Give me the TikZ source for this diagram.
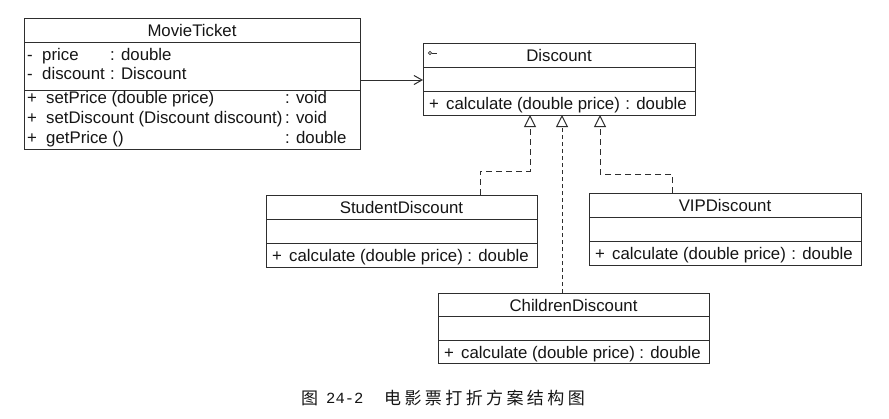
\documentclass[tikz,border=0pt]{standalone}
\usepackage{fontspec}
\setmainfont{Liberation Sans}
\newfontfamily\cjkfont{Noto Sans CJK SC}
\newfontfamily\capmono{Liberation Mono}
\usetikzlibrary{arrows.meta}
\definecolor{lc}{HTML}{2E2E2E}
\definecolor{tc}{HTML}{151515}
\newcommand\umlfont{\fontsize{16.8}{20}\selectfont}
\tikzset{
  clsbox/.style={draw=lc, line width=1pt, anchor=north west, inner sep=0pt, outer sep=0pt, fill=white},
  divline/.style={draw=lc, line width=1pt},
  ttl/.style={font=\umlfont, text=tc, inner sep=0pt},
  rowtxt/.style={font=\umlfont, text=tc, inner sep=0pt, anchor=base west},
  rowtxtE/.style={font=\umlfont, text=tc, inner sep=0pt, anchor=base east},
  assoc/.style={draw=lc, line width=1pt, -{Straight Barb[length=8pt,width=9pt,line width=1pt]}},
  realz/.style={draw=lc, line width=1pt, dash pattern=on 6pt off 4pt, -{Triangle[open,length=12pt,width=12pt,line width=1pt]}},
  realzfine/.style={draw=lc, line width=0.8pt, dash pattern=on 4pt off 3pt, -{Triangle[open,length=12pt,width=12pt,line width=1pt]}},
}
\begin{document}
\begin{tikzpicture}[x=1pt,y=-1pt]
\fill[white] (0,0) rectangle (889,418);
\useasboundingbox (0,0) rectangle (889,418);

% ---------- MovieTicket ----------
\node[clsbox, minimum width=336pt, minimum height=131pt] (mt) at (24,18) {};
\draw[divline] (24,42) -- (360,42);
\draw[divline] (24,90) -- (360,90);
\node[ttl] (mtT) at (192,30) {MovieTicket};
\node[rowtxt] (mta1) at (27,60) {-};
\node[rowtxt] (mta1n) at (42,60) {price};
\node[rowtxt] (mta1t) at (110,60) {: double};
\node[rowtxt] (mta2) at (27,79) {-};
\node[rowtxt] (mta2n) at (42,79) {discount};
\node[rowtxt] (mta2t) at (110,79) {: Discount};
\node[rowtxt] (mtm1) at (27,103) {+};
\node[rowtxt] (mtm1n) at (46,103) {setPrice (double price)};
\node[rowtxt] (mtm1t) at (285,103) {: void};
\node[rowtxt] (mtm2) at (27,123) {+};
\node[rowtxt] (mtm2n) at (46,123) {setDiscount (Discount discount)};
\node[rowtxt] (mtm2t) at (285,123) {: void};
\node[rowtxt] (mtm3) at (27,143) {+};
\node[rowtxt] (mtm3n) at (46,143) {getPrice ()};
\node[rowtxt] (mtm3t) at (285,143) {: double};

% ---------- Discount ----------
\node[clsbox, minimum width=272pt, minimum height=72pt] (disc) at (423,43) {};
\draw[divline] (423,67) -- (695,67);
\draw[divline] (423,91) -- (695,91);
\node[ttl] (discT) at (559,55) {Discount};
\draw[draw=lc, line width=0.6pt] (430,53) circle (1.6pt);
\draw[draw=lc, line width=0.6pt] (431.6,53) -- (437,53);
\node[rowtxt] (discp) at (429,109) {+};
\node[rowtxt] (discm) at (446,109) {calculate (double price)};
\node[rowtxtE] (disct) at (687,109) {: double};

% ---------- StudentDiscount ----------
\node[clsbox, minimum width=271pt, minimum height=72pt] (sd) at (266,195) {};
\draw[divline] (266,219) -- (537,219);
\draw[divline] (266,243) -- (537,243);
\node[ttl] (sdT) at (401.5,207) {StudentDiscount};
\node[rowtxt] (sdp) at (272,261) {+};
\node[rowtxt] (sdm) at (289,261) {calculate (double price)};
\node[rowtxtE] (sdt) at (529,261) {: double};

% ---------- VIPDiscount ----------
\node[clsbox, minimum width=272pt, minimum height=72pt] (vd) at (589,193) {};
\draw[divline] (589,217) -- (861,217);
\draw[divline] (589,241) -- (861,241);
\node[ttl] (vdT) at (725,205) {VIPDiscount};
\node[rowtxt] (vdp) at (595,259) {+};
\node[rowtxt] (vdm) at (612,259) {calculate (double price)};
\node[rowtxtE] (vdt) at (853,259) {: double};

% ---------- ChildrenDiscount ----------
\node[clsbox, minimum width=271pt, minimum height=70pt] (cd) at (438,293) {};
\draw[divline] (438,316) -- (709,316);
\draw[divline] (438,340) -- (709,340);
\node[ttl] (cdT) at (573.5,305) {ChildrenDiscount};
\node[rowtxt] (cdp) at (444,358) {+};
\node[rowtxt] (cdm) at (461,358) {calculate (double price)};
\node[rowtxtE] (cdt) at (701,358) {: double};

% ---------- connectors ----------
\draw[assoc] (mt.east |- 0,80) -- (disc.west |- 0,80);
\draw[realz] (sd.north -| 480,0) |- (530,171) -- (disc.south -| 530,0);
\draw[realzfine] (cd.north -| 562,0) -- (disc.south -| 562,0);
\draw[realz] (vd.north -| 672,0) |- (600,174) -- (disc.south -| 600,0);

% ---------- caption ----------
\node[inner sep=0pt, anchor=base west, text=tc, font=\cjkfont\fontsize{17}{20}\selectfont] (cap1) at (301,404.5) {图};
\node[inner sep=0pt, anchor=base west, text=tc, font=\capmono\fontsize{15.5}{18}\selectfont] (cap2) at (326,403) {24-2};
\node[inner sep=0pt, anchor=base west, text=tc, font=\cjkfont\fontsize{17}{20}\selectfont] (cap3) at (384,404.5)
  {电\hspace{3.4pt}影\hspace{3.4pt}票\hspace{3.4pt}打\hspace{3.4pt}折\hspace{3.4pt}方\hspace{3.4pt}案\hspace{3.4pt}结\hspace{3.4pt}构\hspace{3.4pt}图};
\end{tikzpicture}
\end{document}
